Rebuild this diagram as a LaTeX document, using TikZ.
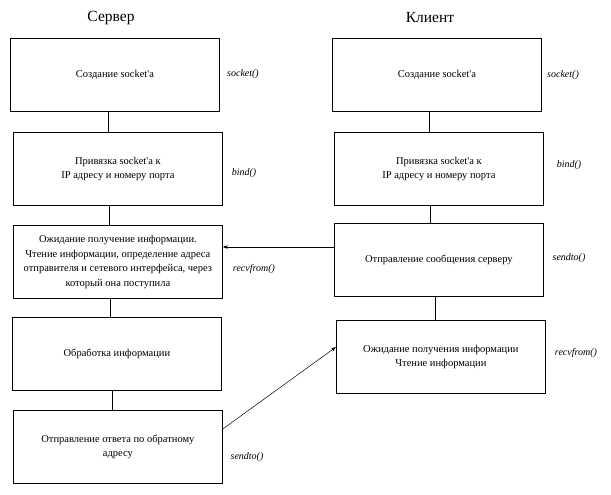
\documentclass[tikz,border=0pt]{standalone}
\usepackage{fontspec}
\setmainfont{Liberation Serif}
\usetikzlibrary{arrows.meta}
\newcommand{\ap}{\textquotesingle}
\begin{document}
\begin{tikzpicture}[x=1pt,y=-1pt,
  box/.style={draw, line width=0.8pt, anchor=north west, minimum width=209pt, minimum height=73pt, inner sep=0pt, align=center, font=\fontsize{10.5}{14.5}\selectfont},
  fn/.style={font=\fontsize{10}{12}\selectfont\itshape},
  title/.style={font=\fontsize{15.5}{18}\selectfont},
  link/.style={line width=0.8pt},
  msg/.style={line width=0.5pt, -{Stealth[length=5pt,width=3.5pt]}}]
\useasboundingbox (0,0) rectangle (611,495);
\node[title] (ts) at (111,18) {Сервер};
\node[title] (tc) at (430,18) {Клиент};
% server
\node[box] (s1) at (10,38) {Создание socket\ap a};
\node[box] (s2) at (13,132) {Привязка socket\ap a к\\IP адресу и номеру порта};
\node[box] (s3) at (13,225) {Ожидание получение информации.\\Чтение информации, определение адреса\\отправителя и сетевого интерфейса, через\\который она поступила};
\node[box] (s4) at (12,317) {Обработка информации};
\node[box] (s5) at (13,410) {Отправление ответа по обратному\\адресу};
% client
\node[box] (c1) at (332,38) {Создание socket\ap a};
\node[box] (c2) at (334,132) {Привязка socket\ap a к\\IP адресу и номеру порта};
\node[box] (c3) at (334,223) {Отправление сообщения серверу};
\node[box] (c4) at (336,320) {Ожидание получения информации\\Чтение информации};
% labels
\node[fn] (l1) at (243,74) {socket()};
\node[fn] (l2) at (244,173) {bind()};
\node[fn] (l3) at (254,269) {recvfrom()};
\node[fn] (l5) at (247,457) {sendto()};
\node[fn] (r1) at (563,75) {socket()};
\node[fn] (r2) at (569,165) {bind()};
\node[fn] (r3) at (569,258) {sendto()};
\node[fn] (r4) at (576,353) {recvfrom()};
% links
\draw[link] (s1.south -| 108,0) -- (s2.north -| 108,0);
\draw[link] (s2.south -| 109,0) -- (s3.north -| 109,0);
\draw[link] (s3.south -| 110,0) -- (s4.north -| 110,0);
\draw[link] (s4.south -| 112,0) -- (s5.north -| 112,0);
\draw[link] (c1.south -| 429,0) -- (c2.north -| 429,0);
\draw[link] (c2.south -| 430,0) -- (c3.north -| 430,0);
\draw[link] (c3.south -| 435,0) -- (c4.north -| 435,0);
% messages
\draw[msg] (c3.west |- 0,247) -- (s3.east |- 0,247);
\draw[msg] (s5.east |- 0,429) -- (c4.west |- 0,347);
\end{tikzpicture}
\end{document}
